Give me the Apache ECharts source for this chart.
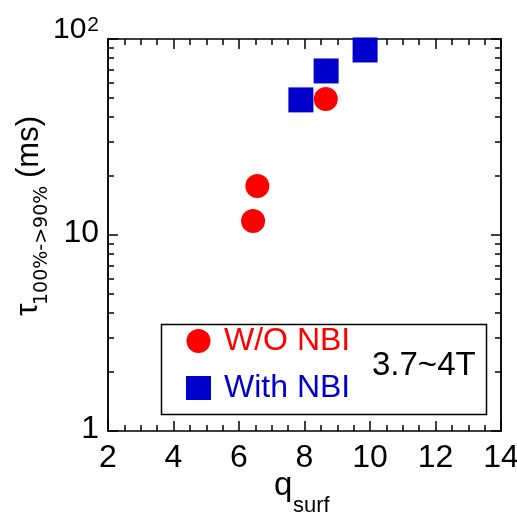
<!DOCTYPE html>
<html>
<head>
<meta charset="utf-8">
<script src="https://cdn.jsdelivr.net/npm/echarts@6/dist/echarts.min.js"></script>
<style>html,body{margin:0;padding:0;background:#fff;}#c{width:517px;height:515px;}</style>
</head>
<body>
<div id="c"></div>
<script>
const xTicks = [2, 4, 6, 8, 10, 12, 14];
const yMajor = [1, 10, 100];
const yMinor = [2, 3, 4, 5, 6, 7, 8, 9, 20, 30, 40, 50, 60, 70, 80, 90];
const seriesNames = ['W/O NBI', 'With NBI'];
const woNbi = [[6.43, 11.8], [6.56, 17.8], [8.65, 49.4]];
const withNbi = [[7.89, 48.9], [8.66, 68.7], [9.85, 87.9]];
const fieldNote = '3.7~4T';

const FONT = '"Liberation Sans", Arial, sans-serif';
const chart = echarts.init(document.getElementById('c'), null, {renderer: 'canvas'});

function xAxisDef(pos, showLabel) {
  return {
    type: 'value', position: pos, min: xTicks[0], max: xTicks[xTicks.length - 1], interval: 2,
    axisLine: {show: true, onZero: false, lineStyle: {color: '#000', width: 1.5}},
    axisTick: {show: true, inside: true, length: 10, lineStyle: {color: '#000', width: 1.5}},
    minorTick: {show: true, splitNumber: 4, length: 6, lineStyle: {color: '#000', width: 1.5}},
    splitLine: {show: false}, minorSplitLine: {show: false},
    axisLabel: {show: showLabel, color: '#000', fontSize: 32, fontFamily: FONT, margin: 11}
  };
}
function yAxisDef(pos, major, showLabel) {
  return {
    type: 'log', logBase: 10, position: pos, min: 1, max: 100,
    axisLine: {show: true, onZero: false, lineStyle: {color: '#000', width: 1.5}},
    axisTick: {show: true, inside: true, length: major ? 10 : 6, customValues: major ? yMajor : yMinor,
      lineStyle: {color: '#000', width: 1.5}},
    splitLine: {show: false},
    axisLabel: {show: showLabel, customValues: yMajor, margin: 9, color: '#000', fontSize: 32, fontFamily: FONT,
      formatter: function (v) { return v === 100 ? '{c|10}{b|2}' : '{a|' + v + '}'; },
      rich: {
        a: {fontSize: 32, fontFamily: FONT, color: '#000', padding: [0, 0, 4, 0]},
        c: {fontSize: 30, fontFamily: FONT, color: '#000', padding: [0, 0, 18, 0]},
        b: {fontSize: 21, fontFamily: FONT, color: '#000', verticalAlign: 'top', padding: [0, 0, 0, 1]}
      }
    }
  };
}

chart.setOption({
  backgroundColor: '#fff',
  animation: false,
  grid: {left: 108, right: 16, top: 39, bottom: 84, containLabel: false, outerBoundsMode: 'none'},
  xAxis: [xAxisDef('bottom', true), xAxisDef('top', false)],
  yAxis: [yAxisDef('left', true, true), yAxisDef('left', false, false), yAxisDef('right', true, false), yAxisDef('right', false, false)],
  legend: {
    orient: 'vertical', left: 181, top: 320, itemWidth: 25, itemHeight: 24, itemGap: 15,
    textStyle: {fontSize: 32, fontFamily: FONT, padding: [0, 0, 0, 8]},
    data: [
      {name: seriesNames[0], icon: 'circle', textStyle: {color: '#ff0000'}},
      {name: seriesNames[1], icon: 'rect', textStyle: {color: '#0000cc'}}
    ]
  },
  series: [
    {name: seriesNames[0], type: 'scatter', data: woNbi, symbol: 'circle', symbolSize: 24,
      itemStyle: {color: '#ff0000', opacity: 1}, xAxisIndex: 0, yAxisIndex: 0, z: 3},
    {name: seriesNames[1], type: 'scatter', data: withNbi, symbol: 'rect', symbolSize: 25,
      itemStyle: {color: '#0000cc', opacity: 1}, xAxisIndex: 0, yAxisIndex: 0, z: 2}
  ],
  graphic: [
    {type: 'rect', left: 159, top: 322, shape: {width: 325, height: 90}, z: 0,
      style: {fill: 'none', stroke: '#000', lineWidth: 1.5}},
    {type: 'text', x: 372, y: 366, z: 5,
      style: {text: fieldNote, fontSize: 33, fontFamily: FONT, fill: '#000', align: 'left', verticalAlign: 'middle'}},
    {type: 'text', x: 274, y: 486, z: 5,
      style: {text: 'q', fontSize: 33, fontFamily: FONT, fill: '#000', align: 'left', verticalAlign: 'middle'}},
    {type: 'text', x: 293, y: 506, z: 5,
      style: {text: 'surf', fontSize: 22, fontFamily: FONT, fill: '#000', align: 'left', verticalAlign: 'middle'}},
    {type: 'text', x: 28, y: 316, rotation: Math.PI / 2, z: 5,
      style: {text: 'τ', fontSize: 32, fontFamily: FONT, fill: '#000', align: 'left', verticalAlign: 'middle'}},
    {type: 'text', x: 42, y: 305, rotation: Math.PI / 2, z: 5,
      style: {text: '100%->90%', fontSize: 19, fontFamily: '"DejaVu Sans", sans-serif', fill: '#000', align: 'left', verticalAlign: 'middle'}},
    {type: 'text', x: 29, y: 147, rotation: Math.PI / 2, z: 5,
      style: {text: '(ms)', fontSize: 31, fontFamily: FONT, fill: '#000', align: 'center', verticalAlign: 'middle'}}
  ]
});
</script>
</body>
</html>
